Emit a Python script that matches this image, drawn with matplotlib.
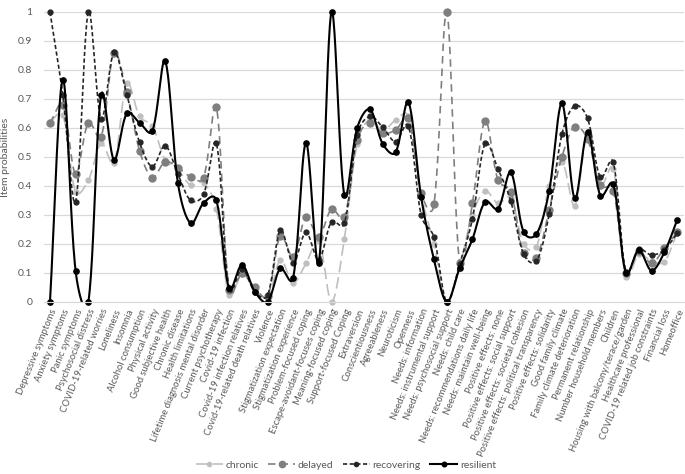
import numpy as np
import matplotlib
matplotlib.use("Agg")
import matplotlib.pyplot as plt

plt.rcParams['font.family'] = ['Lato', 'DejaVu Sans']

categories = [
    "Depressive symptoms", "Anxiety symptoms", "Panic symptoms", "Psychosocial distress",
    "COVID-19-related worries", "Loneliness", "Insomnia", "Alcohol consumption",
    "Physical activity", "Good subjective health", "Chronic disease", "Health limitations",
    "Lifetime diagnosis mental disorder", "Current psychotherapy", "Covid-19 infection",
    "Covid-19 infection relatives", "Covid-19-related death relatives", "Violence",
    "Stigmatization expectation", "Stigmatization experience", "Problem-focused coping",
    "Escape-avoidant-focuses coping", "Meaning-focused coping", "Support-focused Coping",
    "Extraversion", "Conscientiousness", "Agreeableness", "Neuroticism", "Openness",
    "Needs: information", "Needs: instrumental support", "Needs: psychosocial support",
    "Needs: child care", "Needs: recommendations daily life", "Needs: maintain well-being",
    "Positive effects: none", "Positive effects: social support",
    "Positive effects: societal cohesion", "Positive effects: political transparency",
    "Positive effects: solidarity", "Good family climate", "Family climate deterioration",
    "Permanent relationship", "Number household members", "Children",
    "Housing with balcony/terace/garden", "Healthcare professional",
    "COVID-19 related job constraints", "Financial loss", "Homeoffice",
]

chronic = [0.62, 0.645, 0.38, 0.42, 0.547, 0.48, 0.755, 0.64, 0.607, 0.49,
           0.455, 0.403, 0.411, 0.32, 0.024, 0.095, 0.045, 0.01, 0.145, 0.067,
           0.133, 0.21, 0.0, 0.217, 0.545, 0.63, 0.59, 0.628, 0.64, 0.37,
           0.2, 0.0, 0.12, 0.30, 0.383, 0.34, 0.36, 0.20, 0.19, 0.40,
           0.484, 0.332, 0.576, 0.40, 0.46, 0.085, 0.165, 0.14, 0.139, 0.24]
delayed = [0.618, 0.68, 0.442, 0.618, 0.57, 0.86, 0.725, 0.522, 0.429, 0.484,
           0.463, 0.432, 0.429, 0.671, 0.04, 0.10, 0.05, 0.02, 0.228, 0.156,
           0.292, 0.225, 0.32, 0.292, 0.56, 0.618, 0.582, 0.593, 0.633, 0.377,
           0.337, 1.0, 0.136, 0.34, 0.625, 0.421, 0.38, 0.168, 0.153, 0.317,
           0.501, 0.605, 0.561, 0.403, 0.383, 0.10, 0.175, 0.133, 0.185, 0.24]
recovering = [1.0, 0.714, 0.346, 1.0, 0.631, 0.861, 0.715, 0.55, 0.467, 0.539,
              0.44, 0.35, 0.371, 0.547, 0.045, 0.115, 0.036, 0.023, 0.248, 0.136,
              0.24, 0.145, 0.277, 0.271, 0.575, 0.64, 0.602, 0.553, 0.607, 0.30,
              0.223, 0.0, 0.13, 0.286, 0.547, 0.459, 0.348, 0.165, 0.141, 0.302,
              0.579, 0.677, 0.633, 0.43, 0.482, 0.105, 0.181, 0.162, 0.18, 0.237]
resilient = [0.0, 0.766, 0.108, 0.0, 0.714, 0.49, 0.65, 0.618, 0.59, 0.83,
             0.409, 0.271, 0.341, 0.35, 0.047, 0.128, 0.036, 0.0, 0.116, 0.084,
             0.549, 0.136, 1.0, 0.369, 0.6, 0.664, 0.545, 0.516, 0.689, 0.361,
             0.147, 0.0, 0.116, 0.216, 0.346, 0.321, 0.447, 0.242, 0.234, 0.383,
             0.685, 0.357, 0.587, 0.367, 0.406, 0.101, 0.179, 0.108, 0.171, 0.283]


def smooth(y, n=24, sx=12.8, sy=290.0, w=0.5):
    # bezier through the points; the control arms mix plain catmull-rom (1/6)
    # with a chord-length split so steep drops don't overshoot as much
    y = np.asarray(y, dtype=float)
    P = np.column_stack([np.arange(len(y)) * sx, y * sy])
    m = len(P)
    lens = np.linalg.norm(np.diff(P, axis=0), axis=1)
    out = [P[0]]
    t = np.linspace(0, 1, n + 1)[1:, None]
    for i in range(m - 1):
        if i == 0:
            c1 = P[0] + (P[1] - P[0]) / 3
        else:
            tg = P[i + 1] - P[i - 1]
            k = (1 - w) / 6 + w * lens[i] / (lens[i - 1] + lens[i]) / 3
            c1 = P[i] + tg * k
        if i + 1 == m - 1:
            c2 = P[i + 1] - (P[i + 1] - P[i]) / 3
        else:
            tg = P[i + 2] - P[i]
            k = (1 - w) / 6 + w * lens[i] / (lens[i] + lens[i + 1]) / 3
            c2 = P[i + 1] - tg * k
        seg = ((1 - t) ** 3 * P[i] + 3 * (1 - t) ** 2 * t * c1
               + 3 * (1 - t) * t ** 2 * c2 + t ** 3 * P[i + 1])
        out.extend(seg)
    out = np.array(out)
    return out[:, 0] / sx, out[:, 1] / sy


fig = plt.figure(figsize=(6.85, 4.74), dpi=100)
ax = fig.add_axes([0.0636, 0.3629, 0.9343, 0.6118])

series = [
    ("chronic", chronic, "#BFBFBF", (0, (7, 3)), 1.2, 3.5),
    ("delayed", delayed, "#7F7F7F", (0, (4.5, 3)), 1.2, 5),
    ("recovering", recovering, "#262626", (0, (2.5, 1.5)), 1.2, 3.5),
    ("resilient", resilient, "#000000", "-", 1.5, 3.8),
]

handles = []
for name, vals, col, ls, lw, ms in series:
    cx, cy = smooth(vals)
    ax.plot(cx, cy, color=col, linestyle=ls, linewidth=lw)
    ax.plot(np.arange(len(vals)), vals, linestyle="none", marker="o",
            markersize=ms, color=col, clip_on=False)
    h, = ax.plot([], [], color=col, linestyle=ls, linewidth=lw, marker="o",
                 markersize=ms - 0.5, label=name)
    handles.append(h)

ax.set_xlim(-0.5, len(categories) - 0.5)
ax.set_ylim(0, 1)
ax.set_yticks(np.arange(0, 1.01, 0.1))
ax.set_yticklabels(["0", "0.1", "0.2", "0.3", "0.4", "0.5", "0.6", "0.7", "0.8", "0.9", "1"])
ax.set_xticks(np.arange(len(categories)))
ax.set_xticklabels(categories, rotation=68, ha="right", rotation_mode="anchor",
                   fontsize=6.8, color="#595959")
ax.tick_params(axis="y", labelsize=7.5, labelcolor="#595959", length=0, pad=8)
ax.tick_params(axis="x", length=0, pad=4)
ax.grid(axis="y", color="#D9D9D9", linewidth=0.9)
ax.set_axisbelow(True)
for s in ["top", "right", "left"]:
    ax.spines[s].set_visible(False)
ax.spines["bottom"].set_color("#D9D9D9")
ax.set_ylabel("Item probabilities", fontsize=7.5, color="#595959", labelpad=6)

fig.legend(handles=handles, loc="center", bbox_to_anchor=(0.505, 0.019), ncol=4,
           frameon=False, fontsize=7.5, handlelength=2.6, columnspacing=0.9,
           handletextpad=0.25, labelcolor="#595959")

fig.savefig("out.png", dpi=100)
